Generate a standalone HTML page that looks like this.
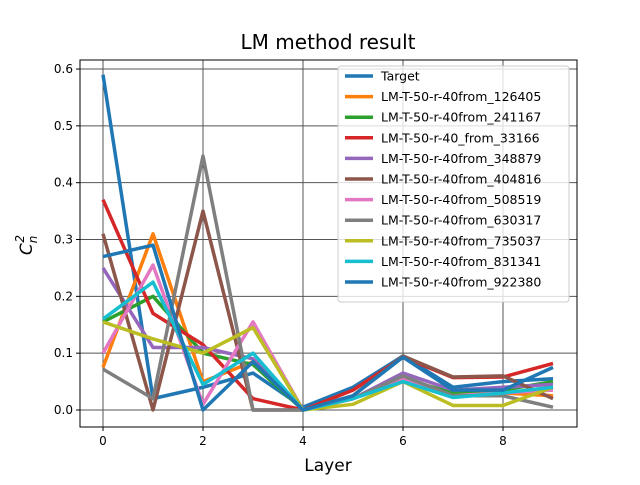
<!DOCTYPE html>
<html><head><meta charset="utf-8"><style>body{margin:0;background:#fff}svg{font-family:"DejaVu Sans","Liberation Sans",sans-serif}</style></head>
<body>
<svg id="c" width="640" height="480" xmlns="http://www.w3.org/2000/svg"></svg>
<script>
const layers=[0,1,2,3,4,5,6,7,8,9];
const xTicks=[0,2,4,6,8];
const yTicks=[0.0,0.1,0.2,0.3,0.4,0.5,0.6];
const seriesNames=["Target","LM-T-50-r-40from_126405","LM-T-50-r-40from_241167","LM-T-50-r-40_from_33166","LM-T-50-r-40from_348879","LM-T-50-r-40from_404816","LM-T-50-r-40from_508519","LM-T-50-r-40from_630317","LM-T-50-r-40from_735037","LM-T-50-r-40from_831341","LM-T-50-r-40from_922380"];
const colors=["#1f77b4","#ff7f0e","#2ca02c","#d62728","#9467bd","#8c564b","#e377c2","#7f7f7f","#bcbd22","#17becf","#1f77b4"];
const sTarget=[0.59,0.02,0.04,0.065,0.005,0.04,0.095,0.04,0.05,0.055];
const s126405=[0.075,0.31,0.05,0.085,0,0.02,0.055,0.03,0.03,0.025];
const s241167=[0.155,0.2,0.1,0.08,0,0.02,0.055,0.03,0.035,0.05];
const s33166=[0.37,0.17,0.115,0.02,0,0.035,0.093,0.057,0.058,0.082];
const s348879=[0.25,0.11,0.11,0.09,0,0.02,0.065,0.035,0.04,0.045];
const s404816=[0.31,0,0.35,0,0,0.025,0.095,0.058,0.06,0.02];
const s508519=[0.1,0.255,0.01,0.155,0,0.02,0.055,0.025,0.03,0.035];
const s630317=[0.072,0.02,0.447,0,0,0.02,0.06,0.025,0.025,0.005];
const s735037=[0.155,0.125,0.1,0.145,0,0.01,0.05,0.008,0.008,0.04];
const s831341=[0.16,0.225,0.045,0.1,0,0.02,0.05,0.022,0.03,0.04];
const s922380=[0.27,0.29,0,0.085,0,0.025,0.093,0.035,0.035,0.075];
const allSeries=[sTarget,s126405,s241167,s33166,s348879,s404816,s508519,s630317,s735037,s831341,s922380];
const L=80,R=577,T=60,B=427;
const X=v=>103+(v-0)*50;
const Y=v=>410-v*568.3;
const svg=document.getElementById('c');
const NS="http://www.w3.org/2000/svg";
function mk(tag,at,parent){const e=document.createElementNS(NS,tag);for(const k in at)e.setAttribute(k,at[k]);(parent||svg).appendChild(e);return e;}
let t=mk('text',{x:328,y:49,'text-anchor':'middle','font-size':20,fill:'#000'});t.textContent="LM method result";


xTicks.forEach(v=>{const g=mk('line',{x1:X(v),x2:X(v),y1:T,y2:B,stroke:'#555','stroke-width':1});


mk('line',{x1:X(v),x2:X(v),y1:B,y2:B+4,stroke:'#000'});
const l=mk('text',{x:X(v),y:B+18,'text-anchor':'middle','font-size':12});l.textContent=v;

});
yTicks.forEach(v=>{const g=mk('line',{x1:L,x2:R,y1:Y(v),y2:Y(v),stroke:'#555','stroke-width':1});


mk('line',{x1:L-4,x2:L,y1:Y(v),y2:Y(v),stroke:'#000'});
const l=mk('text',{x:L-7,y:Y(v)+4,'text-anchor':'end','font-size':12});l.textContent=v.toFixed(1);

});
allSeries.forEach((s,i)=>{const p=mk('polyline',{points:s.map((v,j)=>X(layers[j])+','+Y(v)).join(' '),fill:'none',stroke:colors[i],'stroke-width':3.5,'stroke-linejoin':'round'});

});
const f=mk('rect',{x:L,y:T,width:R-L,height:B-T,fill:'none',stroke:'#000','stroke-width':1});


const xl=mk('text',{x:328,y:471,'text-anchor':'middle','font-size':17});xl.textContent="Layer";


const yl=mk('text',{transform:'translate(32,245) rotate(-90)','text-anchor':'middle','font-size':17,'font-style':'italic'});
yl.innerHTML='C<tspan font-size="12" dy="5">n</tspan><tspan font-size="12" dy="-13" dx="-7">2</tspan>';


const lg=mk('rect',{x:338,y:66,width:231,height:236,rx:3,fill:'#fff','fill-opacity':0.8,stroke:'#ccc'});


seriesNames.forEach((n,i)=>{const y=76+i*20.6;
const ln=mk('line',{x1:345,x2:373,y1:y,y2:y,stroke:colors[i],'stroke-width':3.5});


const tx=mk('text',{x:381,y:y+4.5,'font-size':12.5});tx.textContent=n;

});
</script>
</body></html>
